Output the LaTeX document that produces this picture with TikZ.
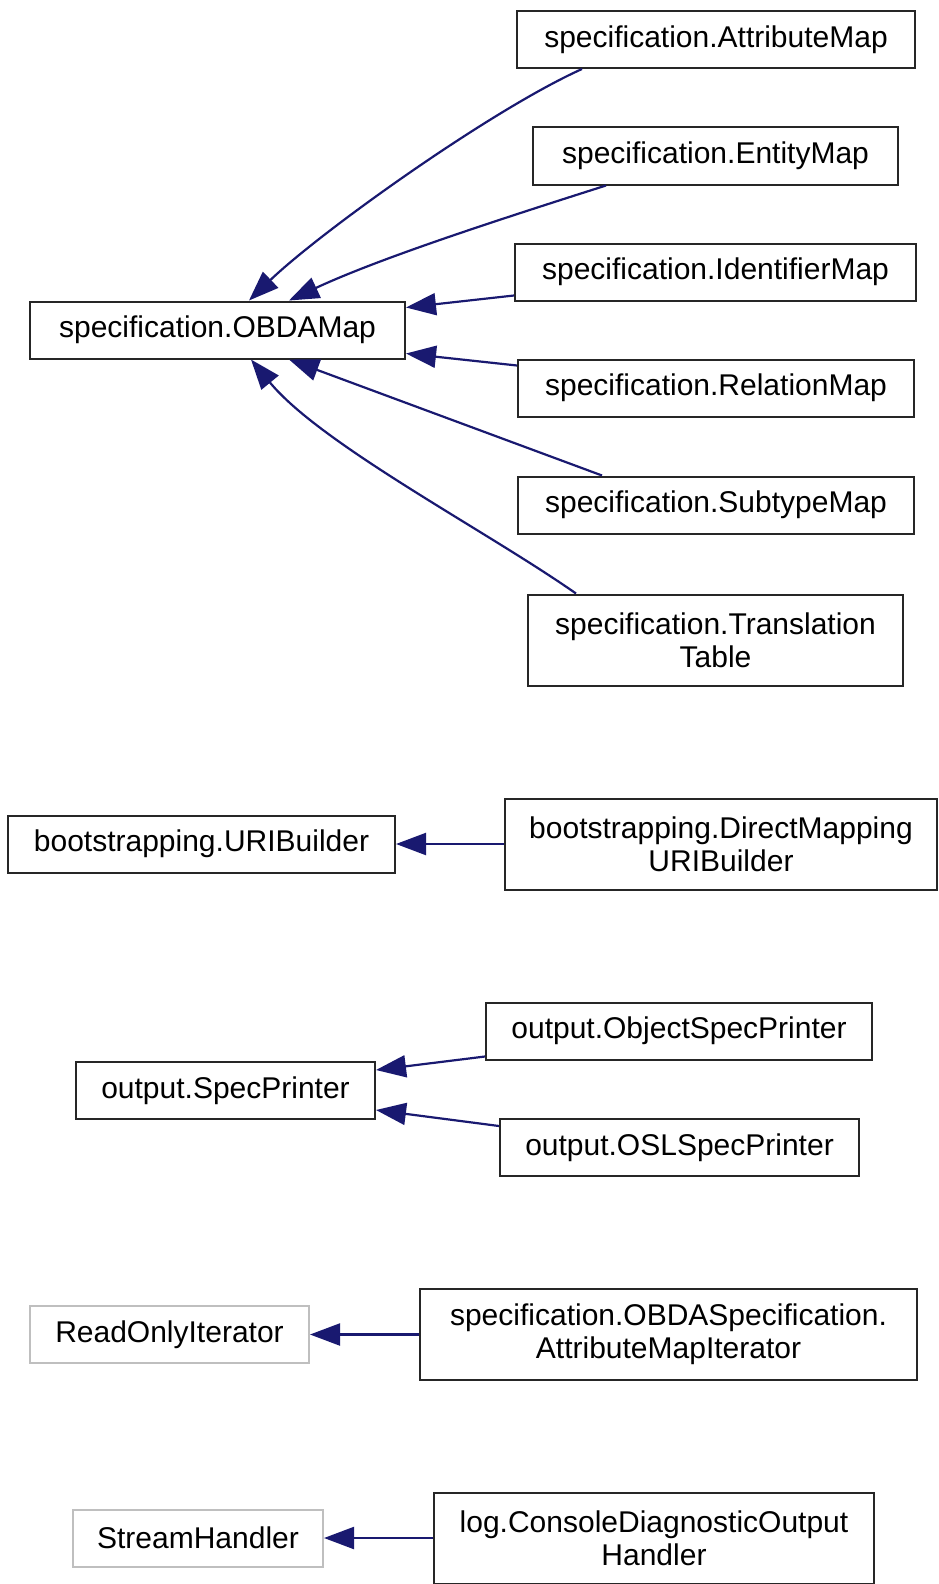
\documentclass[tikz,border=0pt]{standalone}
\usepackage{fontspec}
\setmainfont{Liberation Sans}
\usepackage{tikz}
\usetikzlibrary{arrows.meta}
\definecolor{edgeblue}{HTML}{191970}
\definecolor{extgray}{HTML}{BFBFBF}

\begin{document}
\begin{tikzpicture}[
    x=1pt, y=-1pt,
    klass/.style={
        rectangle, draw=black!85, line width=2pt, inner sep=0pt,
        align=center, minimum height=57pt,
        font=\fontsize{30}{33}\selectfont
    },
    tall/.style={minimum height=91pt},
    extern/.style={klass, draw=extgray},
    inh/.style={-{Triangle[length=30pt, width=22pt]}, draw=edgeblue, line width=2.2pt},
]
\useasboundingbox (0,0) rectangle (938,1584);

%% Group 1: OBDAMap and its subclasses
\node[klass, minimum width=375pt] (obda) at (217.5,330) {specification.OBDAMap};
\node[klass, minimum width=398pt] (attr) at (716,39.5) {specification.AttributeMap};
\node[klass, minimum width=365pt] (entity) at (715.5,156) {specification.EntityMap};
\node[klass, minimum width=401pt] (ident) at (715.5,272) {specification.IdentifierMap};
\node[klass, minimum width=396pt] (rel) at (716,388) {specification.RelationMap};
\node[klass, minimum width=396pt] (subtype) at (716,505) {specification.SubtypeMap};
\node[klass, tall, minimum width=375pt] (trans) at (715.5,640) {specification.Translation\\Table};

%% Group 2: URIBuilder
\node[klass, minimum width=387pt] (uri) at (201.5,844) {bootstrapping.URIBuilder};
\node[klass, tall, minimum width=432pt] (dmuri) at (721,844) {bootstrapping.DirectMapping\\URIBuilder};

%% Group 3: SpecPrinter
\node[klass, minimum width=299pt] (spec) at (225.5,1090.5) {output.SpecPrinter};
\node[klass, minimum width=386pt] (objspec) at (679,1031) {output.ObjectSpecPrinter};
\node[klass, minimum width=359pt] (oslspec) at (679.5,1147.5) {output.OSLSpecPrinter};

%% Group 4 and 5: external base classes
\node[extern, minimum width=279pt] (roi) at (169.5,1334.5) {ReadOnlyIterator};
\node[klass, tall, minimum width=497pt] (attrit) at (668.5,1334.5) {specification.OBDASpecification.\\AttributeMapIterator};
\node[extern, minimum width=250pt] (stream) at (198,1538) {StreamHandler};
\node[klass, tall, minimum width=440pt] (console) at (654,1538) {log.ConsoleDiagnosticOutput\\Handler};

%% Inheritance arrows into OBDAMap
\draw[inh] ([xshift=66pt]attr.south west) .. controls +(-91,41) and +(72,-69) .. ([xshift=220pt]obda.north west);
\draw[inh] ([xshift=74pt]entity.south west) .. controls +(-110,35) and +(90,-42) .. ([xshift=260pt]obda.north west);
\draw[inh] ([yshift=6pt]ident.south west) -- ([yshift=-7pt]obda.north east);
\draw[inh] ([yshift=-7pt]rel.north west) -- ([yshift=6pt]obda.south east);
\draw[inh] ([xshift=85pt]subtype.north west) -- ([xshift=260pt]obda.south west);
\draw[inh] ([xshift=49pt]trans.north west) .. controls +(-90,-63) and +(70,85) .. ([xshift=222pt]obda.south west);

%% The other groups
\draw[inh] (dmuri) -- (uri);
\draw[inh] ([yshift=4pt]objspec.south west) -- ([yshift=-9pt]spec.north east);
\draw[inh] ([yshift=-8pt]oslspec.north west) -- ([yshift=10pt]spec.south east);
\draw[inh] (attrit) -- (roi);
\draw[inh] (console) -- (stream);

\end{tikzpicture}
\end{document}
